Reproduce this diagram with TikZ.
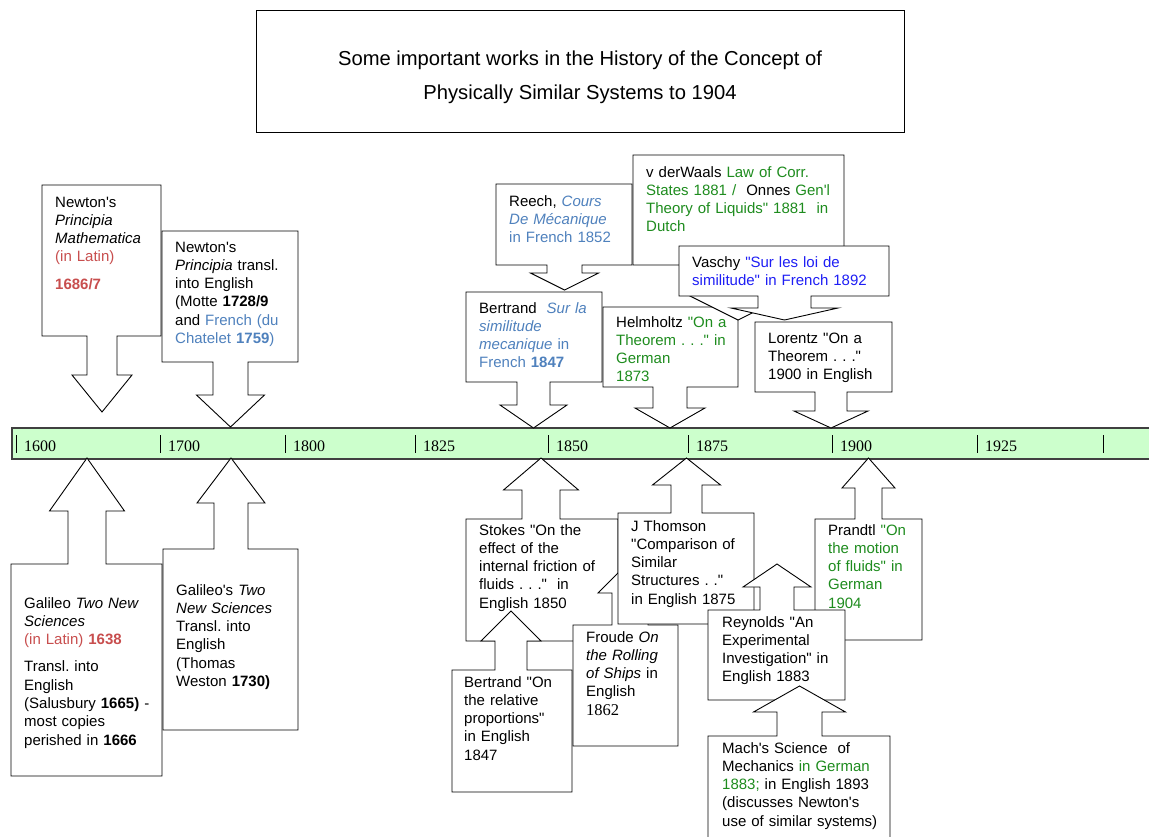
\documentclass[tikz,border=0pt]{standalone}
\usepackage{fontspec}
\setmainfont{Liberation Sans}[Ligatures=TeXOff]
\newfontfamily\timesfont{Liberation Serif}

\definecolor{latinred}{RGB}{200,78,78}
\definecolor{frblue}{RGB}{79,129,189}
\definecolor{grn}{RGB}{30,140,30}
\definecolor{vblue}{RGB}{30,30,245}
\definecolor{barfill}{RGB}{204,255,204}

% box with a fat arrow: left, right, far edge, stem edge, stem left, stem right, head base, overhang, tip
\newcommand{\workbox}[9]{%
  \draw[callout] (#1,#3) -- (#2,#3) -- (#2,#4) -- (#6,#4) -- (#6,#7) -- (#6+#8,#7)
    -- ({(#5+#6)/2},#9) -- (#5-#8,#7) -- (#5,#7) -- (#5,#4) -- (#1,#4) -- cycle;}

\begin{document}
\frenchspacing
\begin{tikzpicture}
[
    x=1pt, y=-1pt,
    callout/.style={draw, fill=white, line width=0.9pt},
    work/.style={anchor=base west, inner sep=0pt, text width=210pt, align=left,
                 font=\fontsize{15}{18.3}\selectfont},
    yearlbl/.style={anchor=west, inner sep=0pt, font=\timesfont\fontsize{16}{16}\selectfont},
]
\clip (0,0) rectangle (1149,836);

% title
\draw[line width=0.9pt] (256,10) rectangle (904,132);
\node (title) [align=center, font=\fontsize{20.2}{34}\selectfont] at (580,77)
{Some important works in the History of the Concept of\\Physically Similar Systems to 1904};

% time line
\draw[fill=barfill, draw=black!75, line width=1.2pt] (12,428) rectangle (1160,459);
\foreach \x/\yr in {16/1600,160/1700,285/1800,415/1825,548/1850,688/1875,832/1900,977/1925}
{
    \draw (\x,435) -- (\x,453);
    \node (y\yr) [yearlbl] at (\x+8,446) {\yr};
}
\draw (1103,435) -- (1103,453);

% above the line
\workbox{42}{161}{185}{336}{87}{117}{375}{15}{412}
\workbox{162}{298}{231}{362}{213}{248}{395}{16.5}{427}
\workbox{496}{632}{184}{265}{547}{582}{273}{16.5}{290}
\workbox{466}{602}{292}{382}{517}{550}{405}{17}{428}
\workbox{603}{738}{307}{387}{653}{687}{408}{18}{428}
\workbox{633}{844}{155}{265}{720}{756}{292}{38}{320}
\workbox{679}{889}{246}{296}{758}{811}{308}{27}{320}
\workbox{755}{892}{322}{392}{815}{847}{411}{21}{428}

% below the line
\workbox{11}{162}{776}{564}{68}{106}{511}{18.5}{458}
\workbox{163}{298}{730}{549}{214}{248}{503}{17}{458}
\workbox{466}{618}{641}{519}{522}{560}{490}{18.5}{458}
\workbox{452}{572}{792}{670}{495}{527}{641}{14}{611}
\workbox{573}{678}{746}{625}{612}{648}{593}{14}{561}
\workbox{618}{754}{624}{513}{671}{702}{485}{18.5}{458}
\workbox{815}{922}{640}{519}{855}{882}{488}{13}{458}
\workbox{708}{845}{700}{610}{760}{794}{587}{17}{564}
\workbox{708}{890}{850}{736}{777}{822}{712}{23.5}{686}

% texts
\node (newtonlat) [work] at (55,207)
{Newton's\\\textit{Principia}\\\textit{Mathematica}\\{\color{latinred}(in Latin)}\\[9pt]{\color{latinred}\bfseries 1686/7}};
\node (newtoneng) [work] at (175,252)
{Newton's\\\textit{Principia} transl.\\into English\\(Motte \textbf{1728/9}\\and {\color{frblue}French (du}\\{\color{frblue}Chatelet \textbf{1759})}};
\node (galileolat) [work] at (24,608)
{Galileo \textit{Two New}\\\textit{Sciences}\\{\color{latinred}(in Latin) \textbf{1638}}\\[9pt]Transl. into\\English\\(Salusbury \textbf{1665)} -\\most copies\\perished in \textbf{1666}};
\node (galileoeng) [work] at (176,595)
{Galileo's \textit{Two}\\\textit{New Sciences}\\Transl. into\\English\\(Thomas\\Weston \textbf{1730)}};
\node (reech) [work] at (509,206)
{Reech, {\color{frblue}\itshape Cours}\\{\color{frblue}\itshape De Mécanique}\\{\color{frblue}in French 1852}};
\node (bertrandfr) [work] at (479,313)
{Bertrand\ \ {\color{frblue}\itshape Sur la}\\{\color{frblue}\itshape similitude}\\{\color{frblue}\itshape mecanique} {\color{frblue}in}\\{\color{frblue}French \textbf{1847}}};
\node (waals) [work] at (646,177)
{v derWaals {\color{grn}Law of Corr.}\\{\color{grn}States 1881 /}\ \ Onnes {\color{grn}Gen'l}\\{\color{grn}Theory of Liquids" 1881\ \ in}\\{\color{grn}Dutch}};
\node (vaschy) [work] at (692,267)
{Vaschy {\color{vblue}"Sur les loi de}\\{\color{vblue}similitude" in French 1892}};
\node (helmholtz) [work] at (616,327)
{Helmholtz {\color{grn}"On a}\\{\color{grn}Theorem . . ." in}\\{\color{grn}German}\\{\color{grn}1873}};
\node (lorentz) [work] at (768,343)
{Lorentz "On a\\Theorem . . ."\\1900 in English};
\node (stokes) [work] at (479,535)
{Stokes "On the\\effect of the\\internal friction of\\fluids . . ."\ \ in\\English 1850};
\node (thomson) [work] at (631,531)
{J Thomson\\"Comparison of\\Similar\\Structures . ."\\in English 1875};
\node (bertrandeng) [work] at (464,687)
{Bertrand "On\\the relative\\proportions"\\in English\\1847};
\node (froude) [work] at (586,642)
{Froude \textit{On}\\\textit{the Rolling}\\\textit{of Ships} in\\English\\{\timesfont\fontsize{16.5}{18.3}\selectfont 1862}};
\node (reynolds) [work] at (722,627)
{Reynolds "An\\Experimental\\Investigation" in\\English 1883};
\node (prandtl) [work] at (828,535)
{Prandtl {\color{grn}"On}\\{\color{grn}the motion}\\{\color{grn}of fluids" in}\\{\color{grn}German}\\{\color{grn}1904}};
\node (mach) [work] at (722,753)
{Mach's Science\ \ of\\Mechanics {\color{grn}in German}\\{\color{grn}1883;} in English 1893\\(discusses Newton's\\use of similar systems)};
\end{tikzpicture}
\end{document}
